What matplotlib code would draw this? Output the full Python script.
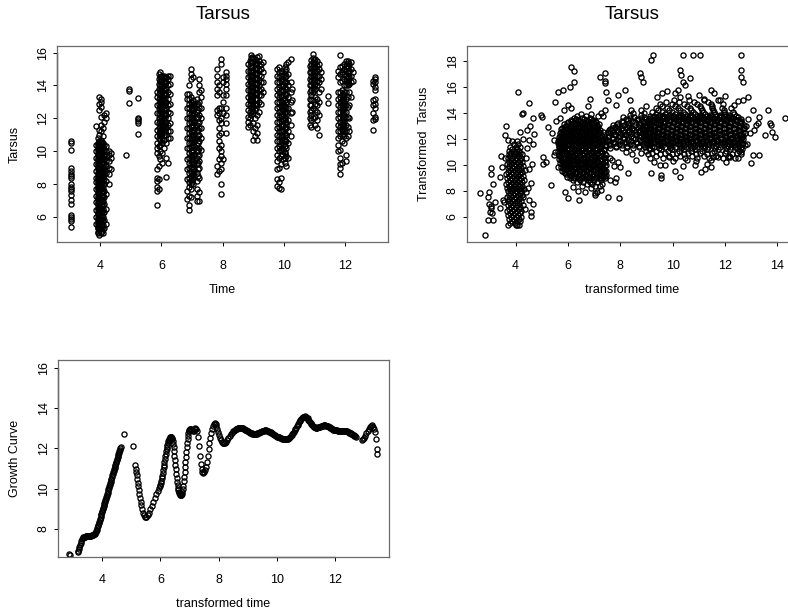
import matplotlib
matplotlib.use('Agg')
import matplotlib.pyplot as plt
from matplotlib.transforms import blended_transform_factory

plt.rcParams['font.family'] = ['Liberation Sans', 'DejaVu Sans']

# ---------------- Panel 1: Tarsus vs Time (vertical strands per time) ----------------
col3_x = [3.04]
col3_y = [[10.6, 10.5, 10.1, 8.95, 8.8, 8.6, 8.5, 8.35, 8.0, 7.85, 7.7, 7.6, 7.35, 7.05, 6.8, 6.15, 6.0, 5.9, 5.75, 5.4]]

col4_x = [3.86, 3.92, 3.97, 4.02, 4.08, 4.14, 4.2, 4.28, 4.34, 3.945, 4.05]
col4_y = [
    [5.6, 6.0, 6.4, 6.9, 7.3, 7.7, 8.1, 8.4, 8.8, 9.2, 9.6, 10.0, 10.4, 11.55],
    [5.1, 5.3, 5.5, 5.7, 5.9, 6.1, 6.3, 6.5, 6.7, 6.9, 7.1, 7.3, 7.5, 7.7, 7.9, 8.1, 8.3, 8.5, 8.7, 8.9, 9.1, 9.3, 9.5, 9.7, 9.9, 10.1, 10.3, 10.5, 10.8],
    [4.9, 5.2, 5.4, 5.6, 5.8, 6.0, 6.2, 6.4, 6.6, 6.8, 7.0, 7.2, 7.4, 7.6, 7.8, 8.0, 8.2, 8.4, 8.6, 8.8, 9.0, 9.2, 9.4, 9.6, 9.8, 10.0, 10.2, 10.4, 10.6, 11.0, 11.3, 12.5, 12.9, 13.3],
    [5.0, 5.3, 5.5, 5.7, 5.9, 6.1, 6.3, 6.5, 6.7, 6.9, 7.1, 7.3, 7.5, 7.7, 7.9, 8.1, 8.3, 8.5, 8.7, 8.9, 9.1, 9.3, 9.5, 9.7, 9.9, 10.1, 10.3, 10.5, 10.7, 11.2, 11.6, 12.1, 12.7, 13.0, 13.2],
    [5.0, 5.25, 5.5, 5.75, 6.0, 6.25, 6.5, 6.75, 7.0, 7.25, 7.5, 7.75, 8.0, 8.25, 8.5, 8.75, 9.0, 9.25, 9.5, 9.75, 10.0, 10.25, 10.5, 10.9, 11.4],
    [5.3, 5.8, 6.3, 6.8, 7.2, 7.6, 8.0, 8.3, 8.6, 8.9, 9.2, 9.5, 9.8, 10.1, 10.4, 11.8, 12.2],
    [5.6, 6.5, 7.4, 8.2, 8.7, 9.1, 9.4, 9.7, 10.0, 10.3, 12.0, 12.3],
    [8.0, 8.6, 9.0, 9.4, 9.8, 10.0],
    [8.9, 9.6, 9.9],
    [5.05, 5.35, 5.65, 5.95, 6.25, 6.55, 6.85, 7.15, 7.45, 7.75, 8.05, 8.35, 8.65, 8.95, 9.25, 9.55, 9.85, 10.15, 10.45],
    [5.15, 5.45, 5.75, 6.05, 6.35, 6.65, 6.95, 7.25, 7.55, 7.85, 8.15, 8.45, 8.75, 9.05, 9.35, 9.65, 9.95, 10.25, 10.55],
]

col5_x = [4.85, 4.95, 5.25]
col5_y = [[9.75], [13.77, 13.67, 12.96], [13.26, 12.05, 11.95, 11.85, 11.74, 11.04]]

col6_x = [5.85, 5.91, 5.97, 6.03, 6.09, 6.15, 6.21, 6.28, 6.0, 6.12]
col6_y = [
    [6.75, 7.6, 7.8, 8.2, 8.35, 8.9, 9.9, 10.2, 10.5, 10.9, 11.3, 11.8, 12.3, 12.8, 13.3, 13.6],
    [7.7, 8.3, 9.1, 9.7, 10.3, 10.8, 11.1, 11.4, 11.7, 12.0, 12.3, 12.6, 12.9, 13.2, 13.5, 13.8, 14.1, 14.4, 14.7],
    [9.5, 10.0, 10.4, 10.7, 11.0, 11.25, 11.5, 11.75, 12.0, 12.25, 12.5, 12.75, 13.0, 13.25, 13.5, 13.75, 14.0, 14.25, 14.5, 14.8],
    [9.3, 9.9, 10.5, 10.8, 11.1, 11.35, 11.6, 11.85, 12.1, 12.35, 12.6, 12.85, 13.1, 13.35, 13.6, 13.85, 14.1, 14.35, 14.6],
    [10.2, 10.7, 11.0, 11.3, 11.6, 11.9, 12.2, 12.5, 12.8, 13.1, 13.4, 13.7, 14.0, 14.3, 14.6],
    [8.45, 9.6, 10.5, 11.0, 11.4, 11.8, 12.2, 12.6, 13.0, 13.4, 13.8, 14.2, 14.5],
    [9.3, 10.8, 11.2, 11.6, 12.0, 12.4, 12.8, 13.2, 13.6, 14.0, 14.4, 14.6],
    [10.8, 11.2, 11.7, 12.3, 12.9, 13.5, 14.1, 14.6],
    [10.95, 11.25, 11.55, 11.85, 12.15, 12.45, 12.75, 13.05, 13.35, 13.65, 13.95, 14.25, 14.55],
    [11.15, 11.45, 11.75, 12.05, 12.35, 12.65, 12.95, 13.25, 13.55, 13.85, 14.15, 14.45],
]

col7_x = [6.84, 6.9, 6.96, 7.02, 7.08, 7.16, 7.22, 7.28, 6.99, 7.19]
col7_y = [
    [7.1, 7.6, 8.3, 8.9, 9.5, 10.2, 10.8, 11.4, 12.0, 12.6, 13.2, 13.5],
    [6.45, 6.7, 7.3, 7.8, 8.1, 8.4, 8.7, 9.0, 9.3, 9.6, 9.9, 10.2, 10.5, 10.8, 11.1, 11.4, 11.7, 12.0, 12.3, 12.6, 12.9, 13.2, 13.5, 14.0],
    [7.2, 7.7, 8.0, 8.25, 8.5, 8.75, 9.0, 9.25, 9.5, 9.75, 10.0, 10.25, 10.5, 10.75, 11.0, 11.25, 11.5, 11.75, 12.0, 12.25, 12.5, 12.75, 13.0, 13.3, 14.4, 14.7, 15.0],
    [8.0, 8.3, 8.6, 8.9, 9.2, 9.5, 9.8, 10.1, 10.4, 10.7, 11.0, 11.3, 11.6, 11.9, 12.2, 12.5, 12.8, 13.1, 14.5],
    [8.8, 9.3, 9.8, 10.3, 10.8, 11.3, 11.8, 12.3, 12.8],
    [6.95, 7.3, 7.7, 8.2, 8.7, 9.2, 9.6, 10.0, 10.4, 10.8, 11.2, 11.6, 12.0, 12.4, 12.8, 13.2],
    [7.0, 7.5, 8.4, 9.0, 9.4, 9.8, 10.2, 10.6, 11.0, 11.4, 11.8, 12.2, 12.6, 13.0, 13.6, 14.0, 14.4],
    [10.1, 10.8, 11.4, 12.0, 12.6, 13.3, 13.7],
    [8.15, 8.45, 8.75, 9.05, 9.35, 9.65, 9.95, 10.25, 10.55, 10.85, 11.15, 11.45, 11.75, 12.05, 12.35, 12.65, 12.95],
    [8.5, 8.9, 9.3, 9.7, 10.1, 10.5, 10.9, 11.3, 11.7, 12.1, 12.5, 12.9],
]

col8_x = [7.82, 7.88, 7.95, 8.02, 8.12]
col8_y = [
    [13.4, 13.8, 14.2, 14.6, 15.0, 9.1, 8.6, 12.5, 12.2],
    [8.8, 9.5, 10.2, 10.6, 11.0, 11.4, 11.9, 12.3, 12.6, 13.6, 14.0],
    [7.4, 8.0, 8.9, 9.3, 9.7, 10.0, 10.4, 11.1, 11.7, 12.0, 12.6, 15.3, 15.6],
    [9.5, 12.3, 13.0, 13.4, 14.2, 14.5],
    [11.1, 11.7, 12.2, 12.6, 13.4, 13.8, 14.1, 14.4, 14.6, 14.8],
]

col9_x = [8.82, 8.88, 8.94, 9.0, 9.06, 9.12, 9.18, 9.25, 9.32, 8.97, 9.09]
col9_y = [
    [11.5, 11.8, 12.1, 12.5, 12.9, 13.3, 13.7, 14.1, 14.5, 14.9, 15.3],
    [11.6, 12.0, 12.4, 12.8, 13.1, 13.4, 13.7, 14.0, 14.3, 14.6, 14.9, 15.2, 15.5],
    [12.2, 12.6, 12.9, 13.15, 13.4, 13.65, 13.9, 14.15, 14.4, 14.65, 14.9, 15.15, 15.4, 15.65, 15.85],
    [10.7, 11.2, 11.7, 12.3, 12.7, 13.0, 13.3, 13.6, 13.9, 14.2, 14.5, 14.8, 15.1, 15.4, 15.7],
    [10.9, 11.4, 12.0, 12.5, 12.9, 13.2, 13.5, 13.8, 14.1, 14.4, 14.7, 15.0, 15.3, 15.6],
    [10.7, 11.1, 11.6, 12.2, 12.8, 13.2, 13.55, 13.85, 14.15, 14.45, 14.75, 15.05, 15.35, 15.75],
    [12.4, 13.0, 13.4, 13.75, 14.05, 14.35, 14.65, 14.95, 15.25, 15.5, 15.8],
    [12.9, 13.4, 13.8, 14.2, 14.6, 15.0, 15.3],
    [13.6, 14.2, 14.8, 15.4],
    [12.45, 12.75, 13.05, 13.35, 13.65, 13.95, 14.25, 14.55, 14.85, 15.15, 15.45, 15.75],
    [12.6, 12.9, 13.2, 13.5, 13.8, 14.1, 14.4, 14.7, 15.0, 15.3, 15.55],
]

col10_x = [9.78, 9.84, 9.9, 9.96, 10.02, 10.08, 10.15, 10.22, 10.28, 9.93, 10.05]
col10_y = [
    [7.9, 8.3, 8.9, 9.4, 9.8, 10.2, 10.6, 11.0, 11.4, 11.8, 12.2, 12.6, 13.0, 13.4, 13.8, 14.2, 14.6, 15.0],
    [7.75, 8.15, 9.0, 9.6, 10.0, 10.3, 10.6, 10.9, 11.2, 11.5, 11.8, 12.1, 12.4, 12.7, 13.0, 13.3, 13.6, 13.9, 14.2, 14.5, 14.8, 15.1],
    [7.7, 8.4, 9.2, 9.7, 10.05, 10.35, 10.65, 10.95, 11.25, 11.55, 11.85, 12.15, 12.45, 12.75, 13.05, 13.35, 13.65, 13.95, 14.25, 14.55, 14.9],
    [9.5, 10.0, 10.4, 10.7, 11.0, 11.3, 11.6, 11.9, 12.2, 12.5, 12.8, 13.1, 13.4, 13.7, 14.0, 14.3, 14.6],
    [9.3, 9.9, 10.3, 10.7, 11.1, 11.5, 11.9, 12.3, 12.7, 13.1, 13.5, 13.9, 14.3, 14.7, 15.1],
    [9.1, 9.7, 10.2, 10.6, 11.0, 11.4, 11.8, 12.2, 12.6, 13.0, 13.4, 13.8, 14.2, 14.6, 15.0, 15.3],
    [9.6, 10.5, 11.2, 11.9, 12.6, 13.3, 14.0, 14.7, 15.4],
    [10.9, 11.6, 12.3, 13.0, 13.6, 14.2, 15.6],
    [12.4, 13.1, 13.8],
    [9.85, 10.2, 10.55, 10.9, 11.25, 11.6, 11.95, 12.3, 12.65, 13.0, 13.35, 13.7, 14.05, 14.4, 14.75],
    [9.6, 9.95, 10.3, 10.65, 11.0, 11.35, 11.7, 12.05, 12.4, 12.75, 13.1, 13.45, 13.8, 14.15, 14.5, 14.85],
]

col11_x = [10.84, 10.9, 10.96, 11.02, 11.08, 11.14, 11.2, 11.44, 10.99]
col11_y = [
    [11.6, 12.0, 12.4, 12.8, 13.2, 13.6, 14.0, 14.4, 14.8, 15.2],
    [11.5, 11.9, 12.2, 12.5, 12.8, 13.1, 13.4, 13.7, 14.0, 14.3, 14.55, 14.8, 15.05, 15.3, 15.55],
    [12.0, 12.6, 13.1, 13.6, 13.9, 14.15, 14.4, 14.65, 14.9, 15.15, 15.4, 15.65, 15.9],
    [11.6, 12.1, 12.5, 12.9, 13.3, 13.8, 14.1, 14.35, 14.6, 14.85, 15.1, 15.35, 15.6],
    [11.4, 11.9, 12.4, 12.8, 13.2, 14.0, 14.3, 14.6, 14.9, 15.2, 15.5],
    [11.0, 12.2, 13.0, 13.6, 14.2, 14.6, 15.0, 15.3],
    [13.8, 14.4, 14.8],
    [13.36, 12.96],
    [13.75, 14.05, 14.3, 14.55, 14.8, 15.05, 15.3, 15.55],
]

col12_x = [11.78, 11.84, 11.9, 11.96, 12.02, 12.08, 12.14, 12.2, 12.26, 11.93, 12.11]
col12_y = [
    [10.0, 10.4, 10.8, 11.2, 11.6, 12.0, 12.4, 12.8, 13.2, 13.6, 14.5, 14.9],
    [8.6, 9.0, 9.2, 9.6, 10.1, 10.9, 11.2, 11.5, 11.8, 12.1, 12.4, 12.7, 13.0, 13.3, 13.6, 14.2, 14.7, 15.1, 15.85],
    [9.3, 10.6, 11.0, 11.3, 11.6, 11.9, 12.2, 12.5, 12.8, 13.1, 13.4, 13.7, 14.3, 14.8, 15.2],
    [10.5, 10.9, 11.2, 11.5, 11.8, 12.1, 12.4, 12.7, 13.0, 13.3, 13.6, 14.0, 14.4, 14.7, 15.0, 15.3],
    [9.4, 9.8, 10.8, 11.2, 11.6, 12.0, 12.4, 12.8, 13.2, 13.6, 14.0, 14.3, 14.6, 14.9, 15.2, 15.5],
    [10.9, 11.5, 12.1, 12.7, 13.3, 14.0, 14.3, 14.6, 14.9, 15.2, 15.5],
    [11.2, 12.0, 12.8, 13.6, 14.1, 14.5, 14.9, 15.3],
    [13.3, 14.2, 14.6, 15.0, 15.45],
    [14.3, 14.8],
    [11.05, 11.35, 11.65, 11.95, 12.25, 12.55, 12.85, 13.15, 13.45],
    [14.15, 14.45, 14.75, 15.05, 15.35],
]

col13_x = [12.9, 12.96]
col13_y = [
    [11.3, 11.9, 12.3, 12.8, 13.1, 14.1, 14.3],
    [11.95, 12.1, 12.6, 12.9, 13.2, 13.7, 13.9, 14.2, 14.4, 14.5],
]

# ---------------- Panel 2: Transformed Tarsus vs transformed time ----------------
clu4_rows_y = [5.4, 5.55, 5.7, 5.85, 6.0, 6.15, 6.3, 6.45, 6.6, 6.75, 6.9, 7.05, 7.2, 7.35,
               7.5, 7.65, 7.8, 7.95, 8.1, 8.25, 8.4, 8.55, 8.7, 8.85, 9.0, 9.15, 9.3, 9.45,
               9.6, 9.75, 9.9, 10.05, 10.2, 10.35, 10.5, 10.65, 10.8, 10.95, 11.1, 11.25,
               11.4, 11.6, 11.8]
clu4_rows_x = [
    [4.04, 4.11], [3.77, 3.98], [3.86, 4.07, 4.16], [3.74, 3.95, 4.12], [3.81, 4.02, 4.2],
    [3.7, 3.9, 4.08], [3.78, 3.97, 4.15], [3.68, 3.87, 4.04, 4.22], [3.75, 3.93, 4.11],
    [3.83, 4.0, 4.18], [3.71, 3.9, 4.07, 4.27], [3.79, 3.97, 4.14], [3.69, 3.87, 4.04, 4.21],
    [3.76, 3.94, 4.11], [3.66, 3.84, 4.01, 4.18, 4.3], [3.73, 3.91, 4.08, 4.24],
    [3.8, 3.98, 4.15], [3.7, 3.88, 4.05, 4.22], [3.77, 3.95, 4.12, 4.32],
    [3.67, 3.85, 4.02, 4.19], [3.74, 3.92, 4.09, 4.26], [3.64, 3.82, 3.99, 4.16],
    [3.71, 3.89, 4.06, 4.23], [3.79, 3.96, 4.13, 4.33], [3.68, 3.86, 4.03, 4.2],
    [3.75, 3.93, 4.1, 4.28], [3.63, 3.82, 4.0, 4.17], [3.72, 3.9, 4.07, 4.24],
    [3.8, 3.97, 4.14, 4.36], [3.69, 3.87, 4.04, 4.21], [3.76, 3.94, 4.11, 4.3],
    [3.66, 3.84, 4.01, 4.18], [3.73, 3.91, 4.08, 4.25], [3.81, 3.98, 4.15],
    [3.7, 3.88, 4.05, 4.22], [3.78, 3.95, 4.12], [3.74, 3.92, 4.09, 4.24],
    [3.83, 4.0, 4.16], [3.76, 3.96, 4.13], [3.87, 4.05], [3.8, 4.0, 4.18], [3.92, 4.1],
    [3.85, 4.05],
]

blobA_rows_y = [8.35, 8.5, 8.65, 8.8, 8.95, 9.1, 9.25, 9.4, 9.55, 9.7, 9.85, 10.0, 10.15,
                10.3, 10.45, 10.6, 10.75, 10.9, 11.05, 11.2, 11.35, 11.5, 11.65, 11.8, 11.95,
                12.1, 12.25, 12.4, 12.55, 12.7, 12.85, 13.0, 13.15, 13.3, 13.45, 13.6, 13.75,
                13.9]
blobA_rows_x = [
    [6.52, 7.04, 7.22],
    [6.71, 6.93, 7.31],
    [6.33, 6.58, 6.86, 7.12],
    [6.2, 6.47, 6.77, 6.99, 7.27],
    [6.09, 6.38, 6.64, 6.9, 7.17, 7.4],
    [5.98, 6.24, 6.53, 6.79, 7.06, 7.33],
    [6.12, 6.41, 6.69, 6.95, 7.22, 7.46],
    [5.87, 6.05, 6.31, 6.58, 6.84, 7.11, 7.37],
    [5.79, 5.99, 6.21, 6.47, 6.73, 7.0, 7.27, 7.44],
    [5.9, 6.13, 6.37, 6.62, 6.89, 7.16, 7.38],
    [5.73, 5.96, 6.26, 6.52, 6.78, 7.05, 7.3],
    [5.84, 6.06, 6.33, 6.6, 6.94, 7.21, 7.47],
    [5.68, 5.93, 6.19, 6.45, 6.71, 6.99, 7.34],
    [5.78, 6.02, 6.29, 6.56, 6.83, 7.11, 7.4],
    [5.64, 5.88, 6.14, 6.4, 6.66, 6.92, 7.25],
    [5.74, 5.99, 6.24, 6.5, 6.77, 7.04, 7.36],
    [5.66, 5.91, 6.16, 6.44, 6.71, 6.97, 7.19, 7.45],
    [5.8, 6.07, 6.33, 6.6, 6.87, 7.12, 7.31],
    [5.62, 5.86, 6.12, 6.38, 6.65, 6.93, 7.23],
    [5.73, 5.97, 6.25, 6.53, 6.8, 7.06, 7.39],
    [5.65, 5.89, 6.15, 6.42, 6.69, 6.96, 7.28],
    [5.77, 6.03, 6.3, 6.58, 6.85, 7.13, 7.43],
    [5.61, 5.84, 6.11, 6.37, 6.63, 6.91, 7.2],
    [5.72, 5.98, 6.24, 6.51, 6.78, 7.05, 7.33],
    [5.66, 5.9, 6.17, 6.44, 6.7, 6.97, 7.26],
    [5.76, 6.04, 6.31, 6.57, 6.84, 7.1, 7.4],
    [5.69, 5.93, 6.2, 6.47, 6.74, 7.01, 7.29],
    [5.8, 6.08, 6.35, 6.62, 6.9, 7.16],
    [5.73, 5.99, 6.26, 6.53, 6.8, 7.07, 7.34],
    [5.85, 6.12, 6.4, 6.68, 6.95, 7.21],
    [5.78, 6.04, 6.31, 6.58, 6.86, 7.12],
    [5.92, 6.2, 6.47, 6.75, 7.02],
    [5.86, 6.13, 6.4, 6.66, 6.93, 7.2],
    [6.01, 6.29, 6.57, 6.84, 7.08],
    [6.1, 6.4, 6.7, 6.97],
    [6.22, 6.52, 6.83],
    [6.35, 6.68, 7.15],
    [6.5, 6.9],
]

blobA2_rows_y = [9.02, 9.17, 9.32, 9.47, 9.62, 9.77, 9.92, 10.07, 10.22, 10.37, 10.52, 10.67,
                 10.82, 10.97, 11.12, 11.27, 11.42, 11.57, 11.72, 11.87, 12.02, 12.17, 12.32,
                 12.47, 12.62, 12.77, 12.92, 13.07, 13.22, 13.37, 13.52]
blobA2_rows_x = [
    [6.22, 6.5, 6.76, 7.03, 7.28],
    [6.1, 6.37, 6.65, 6.92, 7.2, 7.42],
    [5.94, 6.2, 6.46, 6.72, 6.98, 7.25],
    [5.85, 6.1, 6.36, 6.62, 6.9, 7.17, 7.4],
    [5.92, 6.16, 6.42, 6.68, 6.95, 7.22],
    [5.8, 6.04, 6.3, 6.56, 6.83, 7.1, 7.34],
    [5.86, 6.12, 6.38, 6.65, 6.92, 7.18, 7.43],
    [5.76, 6.0, 6.26, 6.52, 6.8, 7.07, 7.3],
    [5.82, 6.06, 6.33, 6.6, 6.86, 7.14, 7.42],
    [5.72, 5.96, 6.22, 6.49, 6.76, 7.03, 7.27],
    [5.8, 6.05, 6.31, 6.58, 6.84, 7.12, 7.38],
    [5.7, 5.95, 6.2, 6.47, 6.74, 7.0, 7.26],
    [5.76, 6.0, 6.26, 6.53, 6.8, 7.06, 7.4],
    [5.68, 5.93, 6.19, 6.46, 6.73, 7.0, 7.3],
    [5.75, 6.0, 6.27, 6.53, 6.8, 7.08, 7.36],
    [5.7, 5.95, 6.2, 6.48, 6.75, 7.02, 7.24],
    [5.64, 5.88, 6.14, 6.4, 6.66, 6.94, 7.2, 7.44],
    [5.7, 5.96, 6.23, 6.5, 6.76, 7.03, 7.3],
    [5.66, 5.9, 6.17, 6.44, 6.72, 6.98, 7.26],
    [5.62, 5.85, 6.1, 6.37, 6.64, 6.9, 7.18, 7.42],
    [5.72, 5.98, 6.24, 6.5, 6.78, 7.05, 7.34],
    [5.65, 5.9, 6.16, 6.42, 6.7, 6.96, 7.22],
    [5.74, 6.0, 6.27, 6.54, 6.8, 7.06, 7.36],
    [5.68, 5.92, 6.2, 6.46, 6.74, 7.0, 7.24],
    [5.8, 6.06, 6.33, 6.6, 6.86, 7.13],
    [5.72, 5.98, 6.25, 6.52, 6.8, 7.06],
    [5.85, 6.12, 6.38, 6.64, 6.92, 7.16],
    [6.0, 6.27, 6.54, 6.8, 7.1],
    [5.95, 6.2, 6.46, 6.74, 7.0],
    [6.14, 6.45, 6.76, 7.02],
    [6.3, 6.62, 6.9],
]

bandB_rows_y = [11.3, 11.45, 11.6, 11.75, 11.9, 12.05, 12.2, 12.35, 12.5, 12.65, 12.8, 12.95,
                13.1, 13.25, 13.4, 13.55, 13.7, 13.85, 14.0, 14.2]
bandB_rows_x = [
    [7.62, 8.05, 8.48], [7.83, 8.27, 8.71], [7.55, 7.96, 8.39, 8.85], [7.74, 8.16, 8.6],
    [7.5, 7.9, 8.31, 8.74, 8.97], [7.68, 8.09, 8.5, 8.88], [7.58, 7.99, 8.41, 8.8],
    [7.79, 8.2, 8.62, 8.95], [7.52, 7.93, 8.33, 8.73], [7.7, 8.12, 8.54, 8.9],
    [7.6, 8.02, 8.44, 8.83], [7.81, 8.24, 8.66], [7.73, 8.13, 8.55, 8.93],
    [7.92, 8.35, 8.77], [8.05, 8.46, 8.86], [8.2, 8.63, 8.98], [8.1, 8.52, 8.9],
    [8.36, 8.78], [8.5, 8.92], [8.4, 8.8],
]

bandB2_rows_y = [11.37, 11.52, 11.67, 11.82, 11.97, 12.12, 12.27, 12.42, 12.57, 12.72, 12.87,
                 13.02, 13.17, 13.32, 13.47, 13.62]
bandB2_rows_x = [
    [7.84, 8.26, 8.7], [7.6, 8.05, 8.5, 8.92], [7.78, 8.2, 8.63], [7.56, 7.98, 8.42, 8.86],
    [7.74, 8.15, 8.56], [7.52, 7.9, 8.3, 8.7], [7.8, 8.2, 8.62], [7.6, 8.0, 8.42, 8.82],
    [7.74, 8.14, 8.55, 8.94], [7.58, 7.92, 8.34, 8.74], [7.7, 8.06, 8.46, 8.86],
    [7.92, 8.34, 8.76], [7.86, 8.28, 8.7], [8.12, 8.56, 8.95], [8.28, 8.68], [8.38, 8.8],
]

blobC_rows_y = [10.5, 10.65, 10.8, 10.95, 11.1, 11.25, 11.4, 11.55, 11.7, 11.85, 12.0, 12.15,
                12.3, 12.45, 12.6, 12.75, 12.9, 13.05, 13.2, 13.35, 13.5, 13.65, 13.8, 13.95,
                14.1, 14.25, 14.4, 14.55, 14.7, 14.85, 15.0]
blobC_rows_x = [
    [9.15, 9.62, 10.08, 10.47, 10.95, 11.38, 11.92, 12.4],
    [9.35, 9.85, 10.3, 10.74, 11.2, 11.66, 12.15],
    [9.05, 9.5, 9.98, 10.42, 10.88, 11.33, 11.8, 12.28, 12.6],
    [9.22, 9.7, 10.16, 10.6, 11.05, 11.52, 12.0, 12.45],
    [8.98, 9.38, 9.82, 10.25, 10.7, 11.14, 11.6, 12.06, 12.52],
    [9.15, 9.56, 9.99, 10.43, 10.86, 11.3, 11.75, 12.2, 12.65],
    [8.95, 9.3, 9.7, 10.1, 10.52, 10.94, 11.37, 11.8, 12.22, 12.62],
    [9.12, 9.48, 9.87, 10.28, 10.68, 11.1, 11.52, 11.95, 12.38, 12.75],
    [8.97, 9.3, 9.64, 10.0, 10.38, 10.78, 11.18, 11.6, 12.02, 12.45],
    [9.1, 9.45, 9.8, 10.17, 10.55, 10.93, 11.33, 11.74, 12.15, 12.57],
    [8.93, 9.25, 9.6, 9.96, 10.32, 10.7, 11.08, 11.47, 11.86, 12.27, 12.68],
    [9.08, 9.42, 9.77, 10.13, 10.5, 10.88, 11.26, 11.65, 12.05, 12.46],
    [8.96, 9.28, 9.6, 9.94, 10.3, 10.66, 11.03, 11.41, 11.8, 12.19, 12.6],
    [9.12, 9.45, 9.78, 10.12, 10.48, 10.85, 11.22, 11.6, 11.98, 12.38, 12.78],
    [8.98, 9.3, 9.62, 9.96, 10.3, 10.65, 11.01, 11.38, 11.76, 12.14, 12.52],
    [9.15, 9.48, 9.8, 10.14, 10.48, 10.84, 11.2, 11.57, 11.95, 12.33, 12.7],
    [9.0, 9.32, 9.64, 9.97, 10.32, 10.67, 11.03, 11.4, 11.78, 12.16, 12.55],
    [9.17, 9.5, 9.83, 10.16, 10.5, 10.86, 11.22, 11.59, 11.97, 12.36, 12.72],
    [9.03, 9.35, 9.67, 10.0, 10.34, 10.69, 11.05, 11.42, 11.8, 12.18, 12.57],
    [9.2, 9.53, 9.86, 10.2, 10.55, 10.9, 11.26, 11.63, 12.0, 12.4],
    [9.08, 9.4, 9.73, 10.07, 10.42, 10.77, 11.13, 11.5, 11.87, 12.25, 12.62],
    [9.25, 9.6, 9.95, 10.3, 10.66, 11.02, 11.39, 11.76, 12.13, 12.5],
    [9.12, 9.48, 9.84, 10.2, 10.56, 10.93, 11.3, 11.67, 12.05, 12.42],
    [9.35, 9.72, 10.1, 10.48, 10.86, 11.24, 11.62, 12.0, 12.35],
    [9.22, 9.6, 9.98, 10.38, 10.78, 11.18, 11.58, 11.96, 12.3],
    [9.45, 9.88, 10.3, 10.72, 11.14, 11.55, 11.95],
    [9.35, 9.78, 10.22, 10.66, 11.1, 11.52, 11.9, 12.25],
    [9.6, 10.08, 10.56, 11.04, 11.5],
    [9.5, 9.96, 10.45, 10.95, 11.45, 11.92],
    [9.75, 10.25, 10.8, 11.35],
    [10.05, 10.62, 11.2, 11.75],
]

blobC2_rows_y = [11.32, 11.47, 11.62, 11.77, 11.92, 12.07, 12.22, 12.37, 12.52, 12.67, 12.82,
                 12.97, 13.12, 13.27, 13.42, 13.57, 13.72, 13.87]
blobC2_rows_x = [
    [9.08, 9.47, 9.9, 10.32, 10.76, 11.19, 11.62, 12.04, 12.47],
    [9.2, 9.58, 9.98, 10.4, 10.82, 11.24, 11.66, 12.1, 12.52],
    [9.05, 9.46, 9.84, 10.2, 10.6, 11.0, 11.4, 11.82, 12.24, 12.66],
    [9.18, 9.55, 9.92, 10.3, 10.7, 11.1, 11.52, 11.94, 12.36],
    [9.04, 9.4, 9.78, 10.15, 10.52, 10.9, 11.28, 11.68, 12.08, 12.5],
    [9.14, 9.5, 9.87, 10.24, 10.62, 11.0, 11.4, 11.8, 12.2, 12.62],
    [9.02, 9.37, 9.74, 10.1, 10.48, 10.86, 11.24, 11.62, 12.0, 12.4],
    [9.2, 9.56, 9.92, 10.3, 10.68, 11.05, 11.44, 11.82, 12.2, 12.58],
    [9.06, 9.4, 9.76, 10.12, 10.5, 10.88, 11.26, 11.64, 12.03, 12.42],
    [9.22, 9.58, 9.94, 10.3, 10.66, 11.02, 11.4, 11.78, 12.16, 12.55],
    [9.08, 9.44, 9.8, 10.16, 10.52, 10.88, 11.24, 11.6, 11.98, 12.36, 12.74],
    [9.25, 9.6, 9.96, 10.32, 10.68, 11.04, 11.42, 11.8, 12.18, 12.56],
    [9.1, 9.46, 9.82, 10.18, 10.54, 10.9, 11.26, 11.62, 12.0, 12.38],
    [9.28, 9.64, 10.0, 10.36, 10.72, 11.08, 11.45, 11.82, 12.2, 12.58],
    [9.15, 9.52, 9.9, 10.26, 10.62, 10.98, 11.34, 11.7, 12.08, 12.45],
    [9.38, 9.76, 10.14, 10.5, 10.86, 11.22, 11.58, 11.95, 12.32],
    [9.3, 9.66, 10.02, 10.4, 10.76, 11.12, 11.5, 11.86, 12.24],
    [9.52, 9.9, 10.28, 10.66, 11.04, 11.42, 11.8, 12.16],
]

blobC3_rows_y = [11.66, 11.81, 11.96, 12.11, 12.26, 12.41, 12.56, 12.71, 12.86, 13.01, 13.16,
                 13.31, 13.46, 13.61, 13.76]
blobC3_rows_x = [
    [9.15, 9.52, 9.9, 10.3, 10.7, 11.1, 11.5, 11.9, 12.3, 12.68],
    [8.98, 9.28, 9.63, 10.0, 10.38, 10.76, 11.15, 11.55, 11.95, 12.36],
    [9.1, 9.43, 9.78, 10.14, 10.5, 10.88, 11.27, 11.66, 12.06, 12.47],
    [8.95, 9.26, 9.6, 9.95, 10.32, 10.7, 11.07, 11.46, 11.85, 12.26, 12.66],
    [9.12, 9.45, 9.78, 10.12, 10.48, 10.85, 11.22, 11.6, 11.99, 12.4],
    [8.97, 9.29, 9.62, 9.96, 10.3, 10.66, 11.04, 11.42, 11.8, 12.19, 12.6],
    [9.14, 9.46, 9.79, 10.13, 10.48, 10.84, 11.2, 11.57, 11.95, 12.33, 12.7],
    [9.0, 9.32, 9.64, 9.97, 10.31, 10.66, 11.02, 11.39, 11.77, 12.15, 12.54],
    [9.16, 9.48, 9.81, 10.15, 10.49, 10.85, 11.21, 11.58, 11.96, 12.35, 12.72],
    [9.02, 9.34, 9.66, 9.99, 10.33, 10.68, 11.04, 11.41, 11.79, 12.17, 12.56],
    [9.19, 9.51, 9.84, 10.18, 10.52, 10.87, 11.23, 11.6, 11.98, 12.37],
    [9.06, 9.38, 9.7, 10.04, 10.38, 10.73, 11.09, 11.46, 11.84, 12.22, 12.6],
    [9.24, 9.57, 9.9, 10.24, 10.59, 10.95, 11.31, 11.68, 12.05, 12.43],
    [9.14, 9.47, 9.8, 10.14, 10.49, 10.84, 11.2, 11.57, 11.94, 12.31],
    [9.3, 9.65, 10.0, 10.36, 10.72, 11.08, 11.45, 11.82, 12.2],
]

scat_x = [2.62, 2.82, 3.0, 3.04, 3.07, 3.13, 2.98, 3.07, 3.01, 3.13, 2.94, 3.2, 3.1, 2.96, 3.05,
          3.39, 3.45, 3.4, 3.47, 3.59, 3.64, 3.53, 3.55, 3.6, 3.7, 3.72, 4.01,
          4.09, 4.15, 4.28, 4.24, 4.53, 4.66, 4.7, 4.66, 4.64, 4.53, 4.6, 4.66, 4.6, 4.57, 4.5,
          4.45, 4.4, 4.48, 4.5, 4.35, 4.45, 4.55, 4.3, 4.38,
          4.98, 5.0, 5.04, 5.04, 5.17, 5.24, 5.36, 5.4, 5.49, 5.46, 5.62, 5.62, 5.81, 5.87, 6.0,
          6.06, 6.1, 6.25, 6.25, 6.0, 6.13, 6.42, 6.64, 6.76, 6.83, 7.02, 7.02, 7.27, 7.21, 7.4,
          7.43, 7.43, 7.46, 7.53, 7.53, 7.78, 7.85, 7.97, 7.91, 8.17, 8.29, 7.85, 8.36, 8.74, 8.8,
          8.87, 9.0, 9.18, 9.25, 9.18, 9.5, 9.57, 9.57, 10.27, 10.39, 10.27, 10.33, 10.39, 10.46,
          10.65, 10.78, 11.03, 11.1, 10.84, 11.48, 11.48, 11.73, 12.05, 12.11, 12.62, 12.62,
          12.62, 12.69, 12.69, 12.88, 13.07, 13.0, 13.07, 13.32, 13.32, 13.26, 13.52, 13.64,
          13.71, 13.77, 13.8, 13.9, 14.28, 13.13, 13.2, 12.94,
          5.55, 5.45, 5.5, 5.7, 5.85, 6.2, 6.4, 6.9, 7.1, 7.35, 7.4, 7.25, 7.6, 7.7, 9.4, 9.6,
          9.8, 10.1, 10.3, 10.2, 10.6, 11.0, 11.2, 11.45, 11.6, 11.8, 12.0, 12.35, 12.5, 12.6,
          12.7, 12.8, 12.85, 12.9, 9.3, 9.7, 10.0, 10.4, 10.55, 10.9, 11.3, 11.55, 12.2, 12.6,
          12.5, 12.4, 11.25, 10.1, 9.85, 7.6, 7.9, 8.0, 8.2, 8.6, 8.8, 7.75, 8.45]
scat_y = [7.85, 4.56, 7.9, 9.73, 9.3, 8.5, 7.0, 6.64, 6.39, 5.74, 5.74, 7.16, 6.26, 7.56, 6.8,
          6.64, 10.7, 9.1, 9.87, 10.52, 13.0, 7.3, 7.1, 12.3, 11.9, 5.37, 5.37,
          15.6, 12.55, 14.0, 13.9, 14.74, 13.6, 12.4, 11.6, 10.1, 9.7, 8.6, 7.0, 6.39, 6.05, 11.9,
          11.3, 10.5, 8.2, 7.3, 6.6, 12.7, 13.0, 12.0, 7.9,
          13.84, 13.7, 10.6, 10.1, 10.24, 12.95, 8.44, 12.43, 14.87, 10.75, 15.6, 9.86, 15.77, 7.93, 7.41,
          16.0, 17.57, 17.2, 16.4, 14.6, 14.36, 7.29, 7.93, 14.5, 15.1, 7.8, 7.67, 8.06, 16.8, 17.05,
          16.5, 16.28, 15.64, 15.0, 7.54, 8.7, 8.96, 7.41, 15.38, 15.77, 9.34, 14.6, 15.0, 17.05, 16.8,
          16.4, 14.5, 18.08, 18.47, 9.34, 9.98, 9.21, 8.96, 9.08, 18.47, 17.31, 16.92, 16.4, 16.15,
          16.67, 18.47, 18.47, 9.47, 9.98, 10.37, 9.86, 10.63, 10.24, 10.63, 18.47, 17.31,
          16.8, 16.4, 15.0, 15.25, 14.23, 10.11, 10.75, 10.75, 13.71, 13.2, 12.3, 14.23,
          13.2, 13.07, 12.55, 12.17, 13.58, 12.68, 13.07, 12.43,
          13.4, 11.9, 11.0, 13.6, 14.2, 8.3, 8.0, 8.2, 7.9, 13.8, 14.2, 14.0, 8.8, 10.4, 15.2, 15.5,
          15.7, 15.5, 15.2, 15.8, 15.3, 15.4, 15.1, 15.8, 15.5, 15.0, 15.3, 14.6, 14.9, 13.4,
          12.2, 13.0, 11.6, 13.5, 10.2, 10.0, 10.3, 9.9, 10.35, 10.3, 10.1, 10.6, 10.6, 11.0,
          10.5, 11.4, 9.7, 9.5, 10.6, 10.5, 10.2, 9.8, 11.0, 10.4, 10.9, 9.9, 10.8]

# ---------------- Panel 3: Growth curve, (transformed time, value) pairs ----------------
gc_start = [(2.88, 6.77), (2.89, 6.69), (3.16, 6.86), (3.18, 6.92), (3.2, 7.0), (3.22, 7.1),
            (3.24, 7.2), (3.26, 7.32), (3.28, 7.42), (3.3, 7.5), (3.33, 7.56), (3.36, 7.6),
            (3.38, 7.61), (3.4, 7.62), (3.42, 7.62), (3.44, 7.63), (3.46, 7.64), (3.48, 7.64),
            (3.5, 7.64), (3.52, 7.64), (3.54, 7.65), (3.56, 7.65), (3.58, 7.66), (3.6, 7.66),
            (3.62, 7.67), (3.64, 7.68), (3.66, 7.69), (3.68, 7.7), (3.7, 7.72), (3.72, 7.74),
            (3.74, 7.77), (3.76, 7.8), (3.78, 7.84), (3.8, 7.88), (3.82, 7.95)]
gc_rise = [(3.84, 8.05), (3.855, 8.13), (3.87, 8.21), (3.885, 8.28), (3.9, 8.36), (3.915, 8.44),
           (3.93, 8.51), (3.945, 8.59), (3.96, 8.67), (3.975, 8.74), (3.99, 8.82), (4.005, 8.9),
           (4.02, 8.97), (4.035, 9.05), (4.05, 9.13), (4.065, 9.2), (4.08, 9.28), (4.095, 9.36),
           (4.11, 9.43), (4.125, 9.51), (4.14, 9.58), (4.155, 9.66), (4.17, 9.74), (4.185, 9.81),
           (4.2, 9.89), (4.215, 9.97), (4.23, 10.04), (4.245, 10.12), (4.26, 10.2), (4.275, 10.27),
           (4.29, 10.35), (4.305, 10.43), (4.32, 10.5), (4.335, 10.58), (4.35, 10.66),
           (4.365, 10.73), (4.38, 10.81), (4.395, 10.89), (4.41, 10.96), (4.425, 11.04),
           (4.44, 11.11), (4.455, 11.19), (4.47, 11.27), (4.485, 11.34), (4.5, 11.42),
           (4.515, 11.5), (4.53, 11.57), (4.545, 11.65), (4.56, 11.72), (4.575, 11.79),
           (4.59, 11.86), (4.605, 11.93), (4.62, 12.0), (4.64, 12.08)]
gc_dip = [(4.74, 12.72), (5.06, 12.13), (5.14, 11.18), (5.15, 11.0), (5.16, 10.85), (5.18, 10.69),
          (5.2, 10.5), (5.22, 10.3), (5.24, 10.15), (5.26, 9.95), (5.28, 9.75), (5.3, 9.55),
          (5.32, 9.35), (5.34, 9.17), (5.36, 9.0), (5.4, 8.8), (5.43, 8.67), (5.46, 8.6),
          (5.49, 8.57), (5.52, 8.6), (5.56, 8.68), (5.6, 8.8), (5.65, 8.97), (5.7, 9.15),
          (5.75, 9.33), (5.8, 9.52), (5.86, 9.74), (5.91, 9.9), (5.96, 10.05), (5.98, 10.12)]
gc_wave = [(6.0, 10.2), (6.015, 10.3), (6.03, 10.4), (6.045, 10.52), (6.06, 10.65), (6.075, 10.78),
           (6.09, 10.92), (6.105, 11.06), (6.12, 11.2), (6.135, 11.34), (6.15, 11.48),
           (6.165, 11.62), (6.18, 11.75), (6.195, 11.87), (6.21, 11.98), (6.225, 12.08),
           (6.24, 12.18), (6.255, 12.27), (6.27, 12.35), (6.285, 12.42), (6.3, 12.48),
           (6.315, 12.53), (6.33, 12.56), (6.345, 12.58), (6.36, 12.58), (6.375, 12.56),
           (6.39, 12.52), (6.405, 12.45), (6.42, 12.35), (6.435, 12.21), (6.45, 12.05),
           (6.465, 11.86), (6.48, 11.65), (6.495, 11.43), (6.51, 11.2), (6.525, 10.97),
           (6.54, 10.75), (6.555, 10.54), (6.57, 10.35), (6.585, 10.19), (6.6, 10.05),
           (6.615, 9.94), (6.63, 9.85), (6.645, 9.78), (6.66, 9.72), (6.675, 9.69), (6.69, 9.67),
           (6.705, 9.68), (6.72, 9.7), (6.735, 9.76), (6.75, 9.85), (6.765, 9.98), (6.78, 10.15),
           (6.795, 10.36), (6.81, 10.6), (6.825, 10.85), (6.84, 11.1), (6.855, 11.35),
           (6.87, 11.6), (6.885, 11.83), (6.9, 12.05), (6.915, 12.26), (6.93, 12.45),
           (6.945, 12.61), (6.96, 12.75), (6.975, 12.85), (6.99, 12.92), (7.005, 12.96),
           (7.02, 12.98)]
gc_rest = [(7.05, 12.97), (7.08, 12.9), (7.11, 12.85), (7.14, 12.87), (7.17, 12.95), (7.2, 13.0),
           (7.23, 12.98), (7.26, 12.85), (7.29, 12.55), (7.32, 12.1), (7.35, 11.65), (7.38, 11.25),
           (7.41, 11.0), (7.44, 10.85), (7.47, 10.8), (7.5, 10.82), (7.53, 10.92), (7.56, 11.1),
           (7.59, 11.35), (7.62, 11.65), (7.65, 11.95), (7.68, 12.25), (7.71, 12.52),
           (7.74, 12.75), (7.77, 12.95), (7.8, 13.1), (7.83, 13.2), (7.86, 13.25), (7.89, 13.22),
           (7.92, 13.12), (7.95, 12.98), (7.98, 12.82), (8.01, 12.67), (8.04, 12.53),
           (8.07, 12.42), (8.1, 12.34), (8.13, 12.29), (8.16, 12.26), (8.19, 12.26),
           (8.22, 12.28), (8.25, 12.33), (8.29, 12.4), (8.33, 12.5), (8.37, 12.6), (8.41, 12.7),
           (8.45, 12.78), (8.5, 12.86), (8.55, 12.92), (8.6, 12.97), (8.65, 13.0), (8.7, 13.02),
           (8.75, 13.02), (8.8, 13.01), (8.85, 12.98), (8.9, 12.94), (8.95, 12.9), (9.0, 12.85),
           (9.05, 12.8), (9.1, 12.76), (9.15, 12.73), (9.2, 12.71), (9.25, 12.71), (9.3, 12.73),
           (9.35, 12.76), (9.4, 12.8), (9.45, 12.84), (9.5, 12.87), (9.55, 12.89), (9.6, 12.9),
           (9.65, 12.89), (9.7, 12.86), (9.75, 12.82), (9.8, 12.77), (9.85, 12.72), (9.9, 12.67),
           (9.95, 12.63), (10.0, 12.59), (10.05, 12.56), (10.1, 12.53), (10.15, 12.5),
           (10.2, 12.48), (10.25, 12.47), (10.3, 12.46), (10.35, 12.47), (10.4, 12.5),
           (10.45, 12.56), (10.5, 12.65), (10.55, 12.77), (10.6, 12.9), (10.65, 13.03),
           (10.7, 13.17), (10.75, 13.3), (10.8, 13.42), (10.85, 13.52), (10.9, 13.58),
           (10.95, 13.6), (11.0, 13.58), (11.05, 13.5), (11.1, 13.38), (11.15, 13.25),
           (11.2, 13.15), (11.25, 13.08), (11.3, 13.05), (11.35, 13.04), (11.4, 13.05),
           (11.45, 13.07), (11.5, 13.1), (11.55, 13.13), (11.6, 13.15), (11.65, 13.15),
           (11.7, 13.13), (11.75, 13.1), (11.8, 13.05), (11.85, 13.0), (11.9, 12.96),
           (11.95, 12.93), (12.0, 12.91), (12.05, 12.9), (12.1, 12.89), (12.15, 12.88),
           (12.2, 12.88), (12.25, 12.88), (12.3, 12.87), (12.35, 12.86), (12.4, 12.85),
           (12.45, 12.8), (12.5, 12.77), (12.55, 12.73), (12.6, 12.68), (12.65, 12.63),
           (12.7, 12.58)]
gc_flat2 = [(8.525, 12.89), (8.575, 12.95), (8.625, 12.99), (8.675, 13.01), (8.725, 13.02),
            (8.775, 13.02), (8.825, 13.0), (8.875, 12.96), (8.925, 12.92), (8.975, 12.88),
            (9.025, 12.83), (9.075, 12.78), (9.125, 12.75), (9.175, 12.72), (9.225, 12.71),
            (9.275, 12.72), (9.325, 12.75), (9.375, 12.78), (9.425, 12.82), (9.475, 12.86),
            (9.525, 12.88), (9.575, 12.9), (9.625, 12.9), (9.675, 12.88), (9.725, 12.84),
            (9.775, 12.8), (9.825, 12.75), (9.875, 12.7), (9.925, 12.65), (9.975, 12.61),
            (10.025, 12.58), (10.075, 12.55), (10.125, 12.52), (10.175, 12.49), (10.225, 12.48),
            (10.275, 12.47), (10.325, 12.47), (10.375, 12.48), (10.425, 12.53), (10.475, 12.6),
            (10.525, 12.71), (10.575, 12.84), (10.625, 12.97), (10.675, 13.1), (10.725, 13.24),
            (10.775, 13.36), (10.825, 13.47), (10.875, 13.55), (10.925, 13.59), (10.975, 13.59),
            (11.025, 13.54), (11.075, 13.44), (11.125, 13.31), (11.175, 13.2), (11.225, 13.11),
            (11.275, 13.06), (11.325, 13.04), (11.375, 13.04), (11.425, 13.06), (11.475, 13.08),
            (11.525, 13.11), (11.575, 13.14), (11.625, 13.15), (11.675, 13.14), (11.725, 13.11),
            (11.775, 13.07), (11.825, 13.02), (11.875, 12.98), (11.925, 12.94), (11.975, 12.92),
            (12.025, 12.9), (12.075, 12.89), (12.125, 12.88), (12.175, 12.88), (12.225, 12.88),
            (12.275, 12.87), (12.325, 12.86), (12.375, 12.85), (12.425, 12.82), (12.475, 12.78),
            (12.525, 12.75), (12.575, 12.7), (12.625, 12.65), (12.675, 12.6)]
gc_end = [(12.92, 12.42), (12.95, 12.45), (12.98, 12.52), (13.02, 12.62), (13.06, 12.75),
          (13.1, 12.88), (13.14, 12.98), (13.18, 13.07), (13.22, 13.14), (13.26, 13.15),
          (13.3, 13.08), (13.33, 12.95), (13.36, 12.8), (13.38, 12.45), (13.41, 11.95),
          (13.44, 11.75)]

# ---------------- Drawing ----------------
W, H = 788, 615
fig = plt.figure(figsize=(W / 100, H / 100), dpi=100)
fig.patch.set_facecolor('white')

AXW = 330.7 / W
AXH = 196.3 / H
ax1 = fig.add_axes([57.3 / W, (H - 242.3) / H, AXW, AXH])
ax2 = fig.add_axes([466.7 / W, (H - 242.3) / H, AXW, AXH])
ax3 = fig.add_axes([57.8 / W, (H - 556.7) / H, AXW, AXH])

MK = dict(linestyle='none', marker='o', ms=3.7, mfc='none', mec='black', mew=0.95)


def strands(ax, xs, ylists):
    for xv, yl in zip(xs, ylists):
        ax.plot([xv] * len(yl), yl, **MK)


def rows(ax, ys, xlists):
    for yv, xl in zip(ys, xlists):
        ax.plot(xl, [yv] * len(xl), **MK)


for cx, cy in [(col3_x, col3_y), (col4_x, col4_y), (col5_x, col5_y), (col6_x, col6_y),
               (col7_x, col7_y), (col8_x, col8_y), (col9_x, col9_y), (col10_x, col10_y),
               (col11_x, col11_y), (col12_x, col12_y), (col13_x, col13_y)]:
    strands(ax1, cx, cy)

rows(ax2, clu4_rows_y, clu4_rows_x)
rows(ax2, blobA_rows_y, blobA_rows_x)
rows(ax2, blobA2_rows_y, blobA2_rows_x)
rows(ax2, bandB_rows_y, bandB_rows_x)
rows(ax2, bandB2_rows_y, bandB2_rows_x)
rows(ax2, blobC_rows_y, blobC_rows_x)
rows(ax2, blobC2_rows_y, blobC2_rows_x)
rows(ax2, blobC3_rows_y, blobC3_rows_x)
ax2.plot(scat_x, scat_y, **MK)

for seg in [gc_start, gc_rise, gc_dip, gc_wave, gc_rest, gc_flat2, gc_end]:
    ax3.plot([p[0] for p in seg], [p[1] for p in seg], **MK)


def style(ax, xlim, ylim, xt, yt, xlabel, ylabel, title=None):
    ax.set_xlim(*xlim)
    ax.set_ylim(*ylim)
    ax.set_xticks(xt)
    ax.set_yticks(yt)
    ax.set_xticklabels([str(v) for v in xt])
    ax.set_yticklabels([str(v) for v in yt], rotation=90, va='center')
    ax.tick_params(axis='both', direction='out', length=3.2, width=0.7, labelsize=9,
                   color='black')
    ax.tick_params(axis='x', pad=9.4)
    ax.tick_params(axis='y', pad=2.6)
    for s in ax.spines.values():
        s.set_color('#6a6a6a')
        s.set_linewidth(0.9)
    tx = blended_transform_factory(ax.transData, ax.transAxes)
    ty = blended_transform_factory(ax.transAxes, ax.transData)
    ax.plot([xt[0], xt[-1]], [0, 0], transform=tx, color='black', lw=0.9, clip_on=False)
    ax.plot([0, 0], [yt[0], yt[-1]], transform=ty, color='black', lw=0.9, clip_on=False)
    ax.text(0.5, -0.243, xlabel, transform=ax.transAxes, ha='center', va='center', fontsize=9)
    ax.text(-0.128, 0.5, ylabel, transform=ax.transAxes, ha='center', va='center',
            rotation=90, fontsize=9)
    if title:
        ax.text(0.5, 1.158, title, transform=ax.transAxes, ha='center', va='center',
                fontsize=13.5)


style(ax1, (2.6, 13.4), (4.46, 16.4), [4, 6, 8, 10, 12], [6, 8, 10, 12, 14, 16],
      'Time', 'Tarsus', 'Tarsus')
style(ax2, (2.13, 14.77), (4.03, 19.16), [4, 6, 8, 10, 12, 14], [6, 8, 10, 12, 14, 16, 18],
      'transformed time', 'Transformed  Tarsus', 'Tarsus')
style(ax3, (2.48, 13.82), (6.62, 16.38), [4, 6, 8, 10, 12], [8, 10, 12, 14, 16],
      'transformed time', 'Growth Curve')

fig.savefig('out.png', dpi=100)
